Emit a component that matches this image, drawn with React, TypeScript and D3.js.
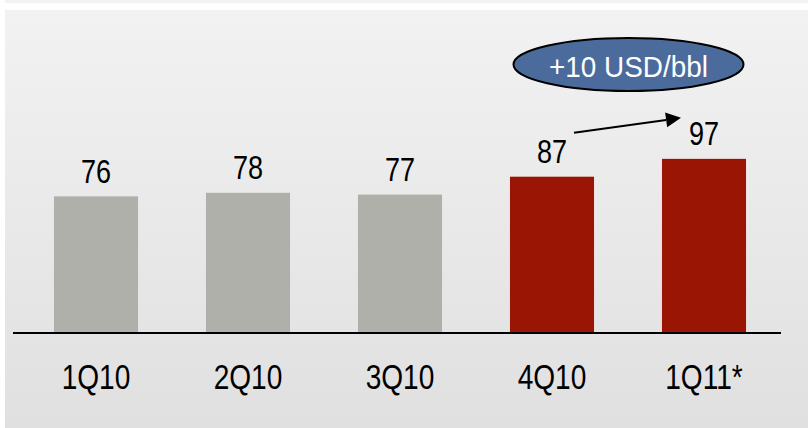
import React from "react";
import * as d3 from "d3";

const categories = ["1Q10", "2Q10", "3Q10", "4Q10", "1Q11*"];
const values = [76, 78, 77, 87, 97];
const highlighted = [false, false, false, true, true];
const calloutText = "+10 USD/bbl";

const W = 808;
const H = 428;
const FONT = "'Liberation Sans', Arial, sans-serif";

export default function App() {
  const x = d3.scaleBand<string>().domain(categories).range([20, 780]).paddingInner(0.447).paddingOuter(0.2235);
  const y = d3.scaleLinear().domain([0, 100]).range([332, 153.5]);
  const base = y(0);

  const cx = (c: string) => (x(c) as number) + x.bandwidth() / 2;

  // arrow from near 4Q10 label to 1Q11 label
  const a0 = { x: cx(categories[3]) + 22, y: y(values[3]) - 44 };
  const a1 = { x: cx(categories[4]) - 23, y: y(values[4]) - 41 };
  const ang = Math.atan2(a1.y - a0.y, a1.x - a0.x);
  const hl = 15, hw = 7.5;
  const bx = a1.x - hl * Math.cos(ang), by = a1.y - hl * Math.sin(ang);
  const head = [
    [a1.x, a1.y],
    [bx + hw * Math.sin(ang), by - hw * Math.cos(ang)],
    [bx - hw * Math.sin(ang), by + hw * Math.cos(ang)],
  ];

  const ellipseCx = (cx(categories[3]) + cx(categories[4])) / 2;

  return (
    <svg width={W} height={H} style={{ position: "absolute", left: 0, top: 0, display: "block" }}>
      <defs>
        <linearGradient id="bg" x1="0" y1="0" x2="0" y2="1">
          <stop offset="0" stopColor="#f2f2f2" />
          <stop offset="1" stopColor="#e0e0e0" />
        </linearGradient>
        <marker id="none" />
      </defs>
      <rect x={0} y={0} width={W} height={H} fill="#ffffff" />
      <rect x={5} y={0} width={W - 5} height={3} fill="#f2f2f2" />
      <rect x={5} y={10} width={W - 5} height={H - 10} fill="url(#bg)" />

      {categories.map((c, i) => (
        <rect
          key={c}
          x={x(c)}
          y={y(values[i])}
          width={x.bandwidth()}
          height={base - y(values[i])}
          fill={highlighted[i] ? "#9b1505" : "#b0b0aa"}
        />
      ))}

      <line x1={13} x2={781} y1={333} y2={333} stroke="#000" strokeWidth={2} />

      {categories.map((c, i) => (
        <text
          key={"v" + c}
          transform={`translate(${cx(c)},${y(values[i]) - 13.5}) scale(0.82,1)`}
          textAnchor="middle"
          fontFamily={FONT}
          fontSize={33}
          fill="#000"
        >
          {values[i]}
        </text>
      ))}

      {categories.map((c) => (
        <text
          key={"c" + c}
          transform={`translate(${cx(c)},${389}) scale(0.78,1)`}
          textAnchor="middle"
          fontFamily={FONT}
          fontSize={36}
          fill="#000"
        >
          {c}
        </text>
      ))}

      <line x1={a0.x} y1={a0.y} x2={bx} y2={by} stroke="#000" strokeWidth={2} />
      <polygon points={head.map((p) => p.join(",")).join(" ")} fill="#000" />

      <ellipse cx={ellipseCx + 0.5} cy={64.5} rx={115} ry={26.5} fill="#4a6b9b" stroke="#000" strokeWidth={2} />
      <text
        transform={`translate(${ellipseCx + 0.5},${77}) scale(0.93,1)`}
        textAnchor="middle"
        fontFamily={FONT}
        fontSize={30}
        fill="#ffffff"
      >
        {calloutText}
      </text>
    </svg>
  );
}
